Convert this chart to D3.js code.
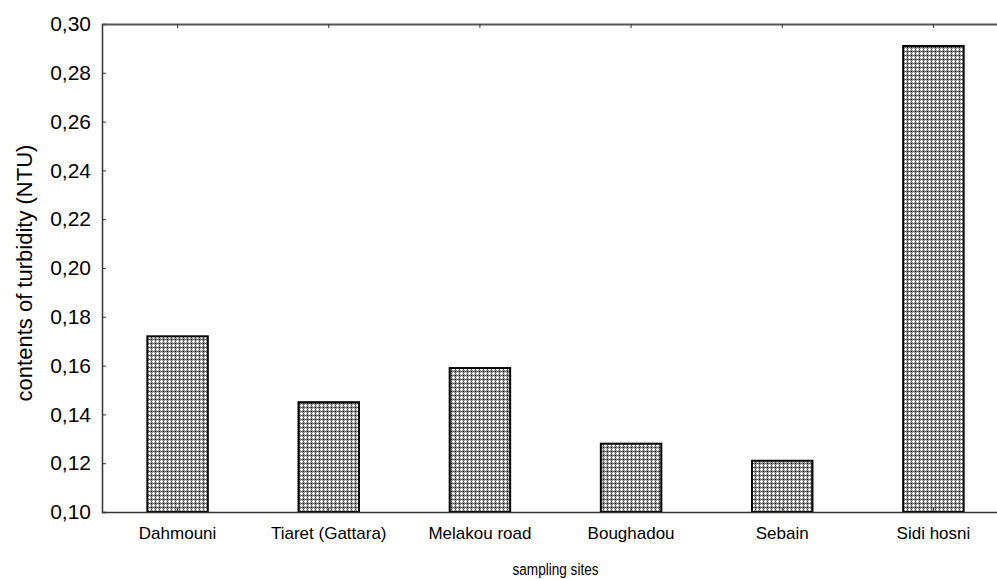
<!DOCTYPE html>
<html><head><meta charset="utf-8">
<script src="https://cdn.jsdelivr.net/npm/d3@7/dist/d3.min.js"></script>
<style>body{margin:0;background:#fff}svg{display:block}</style>
</head><body>
<svg id="c" width="997" height="579"></svg>
<script>
const categories = ["Dahmouni","Tiaret (Gattara)","Melakou road","Boughadou","Sebain","Sidi hosni"];
const values = [0.172, 0.145, 0.159, 0.128, 0.121, 0.291];
const yTicks = [0.10,0.12,0.14,0.16,0.18,0.20,0.22,0.24,0.26,0.28,0.30];
const yTitle = "contents of turbidity (NTU)";
const xTitle = "sampling sites";

const svg = d3.select("#c");
const L = 102, T = 24, B = 512, R = 1009;
const x = d3.scaleBand().domain(categories).range([L, R]).paddingInner(0.6).paddingOuter(0.3);
const y = d3.scaleLinear().domain([0.10, 0.30]).range([B, T]);
const FONT = "Liberation Sans, Arial, sans-serif";

const defs = svg.append("defs");
const pat = defs.append("pattern").attr("id","hatch").attr("patternUnits","userSpaceOnUse").attr("width",4).attr("height",4);
pat.append("rect").attr("width",4).attr("height",4).attr("fill","#8c8c8c");
pat.append("rect").attr("x",0).attr("y",1).attr("width",3).attr("height",1).attr("fill","#fff");
pat.append("rect").attr("x",1).attr("y",0).attr("width",1).attr("height",3).attr("fill","#fff");
pat.append("rect").attr("x",3).attr("y",3).attr("width",1).attr("height",1).attr("fill","#111");
pat.append("rect").attr("x",3).attr("y",1).attr("width",1).attr("height",1).attr("fill","#555");
pat.append("rect").attr("x",1).attr("y",3).attr("width",1).attr("height",1).attr("fill","#555");

// bars
svg.selectAll("rect.bar").data(categories).enter().append("rect")
  .attr("class","bar")
  .attr("x", d => x(d))
  .attr("width", x.bandwidth())
  .attr("y", (d,i) => y(values[i]))
  .attr("height", (d,i) => B - y(values[i]))
  .attr("fill","url(#hatch)")
  .attr("stroke","#000").attr("stroke-width",2);

// left axis
const yAxis = d3.axisLeft(y).tickValues(yTicks).tickSize(-4).tickPadding(11)
  .tickFormat(d => d3.format(".2f")(d).replace(".", ","));
const gy = svg.append("g").attr("transform",`translate(${L},0)`).call(yAxis);
gy.select(".domain").attr("stroke","#333").attr("stroke-width",1.5);
gy.selectAll(".tick line").attr("stroke","#333");
gy.selectAll(".tick text").attr("font-family",FONT).attr("font-size",21).attr("fill","#000");

// bottom axis
const xAxis = d3.axisBottom(x).tickSize(-4).tickSizeOuter(0).tickPadding(15);
const gx = svg.append("g").attr("transform",`translate(0,${B})`).call(xAxis);
gx.select(".domain").attr("stroke","#333").attr("stroke-width",1.5);
gx.selectAll(".tick line").attr("stroke","#333");
gx.selectAll(".tick text").attr("font-family",FONT).attr("font-size",17).attr("fill","#000");

// top axis
const xTop = d3.axisTop(x).tickSize(-4).tickSizeOuter(0).tickFormat("");
const gt = svg.append("g").attr("transform",`translate(0,${T})`).call(xTop);
gt.select(".domain").attr("stroke","#555").attr("stroke-width",2);
gt.selectAll(".tick line").attr("stroke","#333");

// titles
svg.append("text").attr("transform",`translate(32,${(T+B)/2 + 5}) rotate(-90)`)
  .attr("text-anchor","middle").attr("font-family",FONT)
  .attr("font-size",22).text(yTitle);
svg.append("text").attr("transform",`translate(${(L+R)/2},575) scale(0.8,1)`)
  .attr("text-anchor","middle").attr("font-family",FONT)
  .attr("font-size",17).text(xTitle);
</script>
</body></html>
